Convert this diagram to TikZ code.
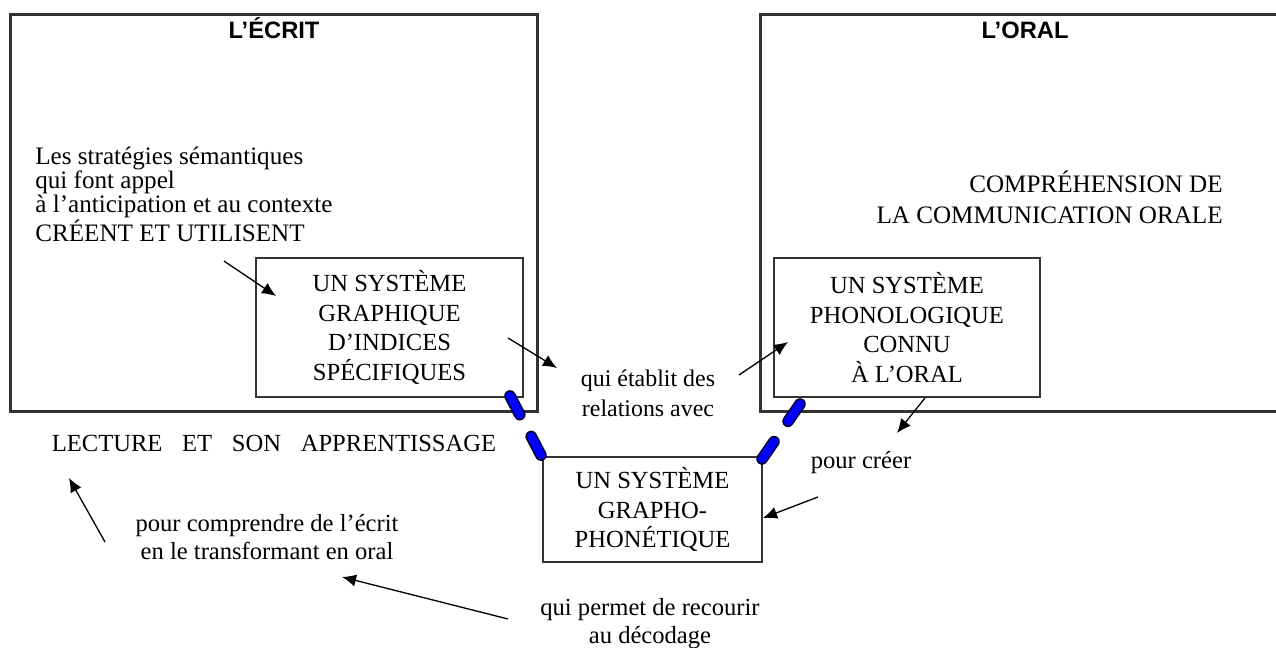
\documentclass[tikz,border=0pt]{standalone}
\usepackage{fontspec}
\setmainfont{Liberation Serif}
\setsansfont{Liberation Sans}
\usetikzlibrary{arrows.meta, positioning, calc}
\tikzstyle{cadre} = [
    rectangle,
    draw=black!80,
    line width=1.7pt,
    minimum width=10.56cm,
    minimum height=7.96cm
]
\tikzstyle{systeme} = [
    rectangle,
    draw=black!80,
    line width=1.5pt,
    align=center,
    font=\fontsize{14}{17}\selectfont
]
\tikzstyle{titre} = [
    inner sep=0pt,
    text height=10pt,
    text depth=2pt,
    font=\sffamily\bfseries\fontsize{13.5}{16}\selectfont
]
\tikzstyle{texte} = [
    inner sep=0pt,
    align=center,
    font=\fontsize{14}{16.4}\selectfont
]
\tikzstyle{fleche} = [line width=0.75pt, -{Latex[length=8pt,width=7pt]}]
\tikzstyle{lien} = [
    line width=0.9pt,
    draw=blue!20!black,
    double=blue,
    double distance=4.8pt,
    line cap=round,
    dash pattern=on 12pt off 14pt
]

\begin{document}
\begin{tikzpicture}[x=0.02cm, y=-0.02cm]
\useasboundingbox (0,0) rectangle (1276,648);

% les deux domaines
\node (ecrit) [cadre] at (274,213) {};
\node (oral) [cadre, minimum width=10.6cm] at (1025,213) {};
\node (titreecrit) [titre, below=0.16cm of ecrit.north] {L'ÉCRIT};
\node (titreoral) [titre, below=0.16cm of oral.north] {L'ORAL};

% les trois systemes
\node (graph) [systeme, minimum width=5.34cm, minimum height=2.78cm] at (389.5,327.5) {UN SYSTÈME\\GRAPHIQUE\\D'INDICES\\SPÉCIFIQUES};
\node (phon) [systeme, minimum width=5.32cm, minimum height=2.78cm] at (907,327.5) {UN SYSTÈME\\PHONOLOGIQUE\\CONNU\\À L'ORAL};
\node (grapho) [systeme, minimum width=4.38cm, minimum height=2.1cm] at (652.5,509.5) {UN SYSTÈME\\GRAPHO-\\PHONÉTIQUE};

% textes
\node (strat) [texte, anchor=west, align=left, font=\fontsize{14.3}{13.8}\selectfont] at (35,194) {Les stratégies sémantiques\\qui font appel\\à l'anticipation et au contexte\\CRÉENT ET UTILISENT};
\node (comprehension) [texte, anchor=east, align=right, font=\fontsize{14.3}{17.6}\selectfont] at (1223,197.5) {COMPRÉHENSION DE\\LA COMMUNICATION ORALE};
\node (lecture) [texte] at (274,443) {LECTURE\hspace{0.55em} ET\hspace{0.55em} SON\hspace{0.55em} APPRENTISSAGE};
\node (compr) [texte] at (267,537) {pour comprendre de l'écrit\\en le transformant en oral};
\node (relations) [texte, font=\fontsize{13.6}{17}\selectfont] at (648,393) {qui établit des\\relations avec};
\node (creer) [texte] at (861,463) {pour créer};
\node (permet) [texte, font=\fontsize{14}{16}\selectfont] at (650,624) {qui permet de recourir\\au décodage};

% fleches
\draw[fleche] ($(strat)+(40,67)$) -- ($(graph)+(-113.5,-31.5)$);
\draw[fleche] ($(graph)+(118.5,10.5)$) -- ($(relations)+(-91,-25)$);
\draw[fleche] ($(relations)+(91,-18)$) -- ($(phon)+(-119,14.5)$);
\draw[fleche] ($(phon)+(18,70.5)$) -- ($(creer)+(36,-30)$);
\draw[fleche] ($(creer)+(-43,34)$) -- ($(grapho)+(110.5,8.5)$);
\draw[fleche] ($(permet)+(-142,-5)$) -- ($(compr)+(75,40)$);
\draw[fleche] ($(compr)+(-162,5)$) -- ($(lecture)+(-205,35)$);

% liens bleus
\draw[lien] ($(graph)+(120.5,68.5)$) -- ($(grapho)+(-109.5,-50.5)$);
\draw[lien] ($(phon)+(-107,76.5)$) -- ($(grapho)+(109.5,-50.5)$);

\end{tikzpicture}
\end{document}
